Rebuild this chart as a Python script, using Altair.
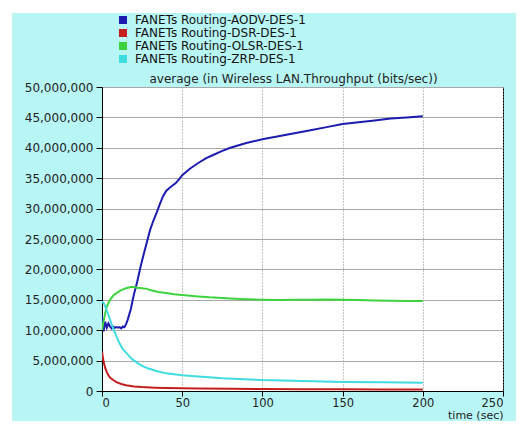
import altair as alt
import pandas as pd

series = [
    "FANETs Routing-AODV-DES-1",
    "FANETs Routing-DSR-DES-1",
    "FANETs Routing-OLSR-DES-1",
    "FANETs Routing-ZRP-DES-1",
]
colors = ["#1c1cb0", "#c41e1e", "#3ed23e", "#3fdce0"]
plot_title = "average (in Wireless LAN.Throughput (bits/sec))"

aodv_t = [0, 1, 2, 3, 4, 5, 6, 7, 8, 9, 10, 11, 12, 13, 14, 15, 16, 17, 18, 19, 20, 21, 22, 24, 26, 28, 30,
          32, 34, 36, 38, 40, 42, 44, 46, 48, 50, 55, 60, 65, 70, 75, 80, 90, 100, 110, 120, 130, 140, 150,
          160, 170, 180, 190, 200]
aodv_v = [12.5, 9.8, 11.4, 10.4, 11.1, 10.6, 10.3, 10.6, 10.4, 10.5, 10.4, 10.5, 10.3, 10.6, 10.5, 11.0,
          11.7, 12.6, 13.5, 14.8, 16.0, 17.0, 18.0, 20.4, 22.5, 24.5, 26.5, 28.0, 29.3, 30.7, 32.0, 32.9,
          33.4, 33.8, 34.2, 34.8, 35.5, 36.6, 37.5, 38.3, 38.9, 39.5, 40.0, 40.8, 41.4, 41.9, 42.4, 42.9,
          43.4, 43.9, 44.2, 44.5, 44.8, 45.0, 45.2]

dsr_t = [0, 0.5, 1, 2, 3, 4, 5, 7, 9, 12, 15, 20, 25, 33, 40, 50, 60, 80, 100, 125, 150, 175, 200]
dsr_v = [6.5, 5.6, 4.8, 3.8, 3.1, 2.6, 2.2, 1.8, 1.45, 1.15, 0.95, 0.75, 0.65, 0.55, 0.5, 0.45, 0.41,
         0.36, 0.32, 0.29, 0.27, 0.26, 0.25]

olsr_t = [0, 1, 2, 3, 5, 7, 9, 12, 15, 18, 20, 22, 25, 28, 30, 35, 40, 45, 50, 60, 67, 80, 90, 100,
          110, 120, 130, 140, 150, 160, 170, 180, 190, 200]
olsr_v = [10.0, 11.5, 12.8, 13.9, 15.0, 15.7, 16.1, 16.6, 16.9, 17.1, 17.1, 17.0, 16.9, 16.8, 16.6, 16.3,
          16.1, 15.9, 15.8, 15.55, 15.4, 15.2, 15.1, 15.0, 14.95, 15.0, 15.0, 15.05, 15.0, 14.95, 14.9,
          14.85, 14.8, 14.8]

zrp_t = [0, 1, 2, 3, 4.4, 6, 7, 9, 11, 13, 16.4, 19, 22.6, 26, 29, 35, 40, 50, 60, 75, 100, 125, 150,
         175, 200]
zrp_v = [14.7, 14.5, 13.9, 13.2, 12.2, 11.0, 10.3, 9.0, 7.8, 6.9, 5.9, 5.2, 4.5, 4.0, 3.7, 3.2, 2.9,
         2.6, 2.4, 2.1, 1.8, 1.65, 1.5, 1.42, 1.37]

y_ticks = [i * 5_000_000 for i in range(11)]
x_ticks = [0, 50, 100, 150, 200, 250]

rows = []
for name, ts, vs in zip(series, [aodv_t, dsr_t, olsr_t, zrp_t], [aodv_v, dsr_v, olsr_v, zrp_v]):
    for t, v in zip(ts, vs):
        rows.append({"series": name, "time": t, "value": v * 1_000_000})
df = pd.DataFrame(rows)

FONT = "DejaVu Sans"
W, H = 401, 304

lines = alt.Chart(df).mark_line(strokeWidth=2, clip=True).encode(
    x=alt.X("time:Q", scale=alt.Scale(domain=[0, 250], nice=False),
            axis=alt.Axis(values=x_ticks, title="time (sec)", grid=True, gridDash=[1, 2],
                          gridColor="#8a8a8a", tickSize=5, tickColor="#000", domainColor="#000",
                          labelFont=FONT, labelFontSize=11.5, labelColor="#222", labelPadding=1,
                          titleFont=FONT, titleFontSize=11, titleFontWeight="normal", titleColor="#222",
                          titleAnchor="end", titleAlign="right", titleX=W, titleY=24,
                          titleBaseline="middle")),
    y=alt.Y("value:Q", scale=alt.Scale(domain=[0, 50_000_000], nice=False),
            axis=alt.Axis(values=y_ticks, format=",d", title=None, grid=True, gridColor="#a8a8a8",
                          tickSize=6, tickColor="#000", domainColor="#000", labelFont=FONT,
                          labelFontSize=12, labelColor="#222", labelPadding=3)),
    color=alt.Color("series:N", scale=alt.Scale(domain=series, range=colors),
                    legend=alt.Legend(orient="none", legendX=15, legendY=-73, title=None,
                                      symbolType="square", symbolSize=16, symbolStrokeWidth=4,
                                      labelFont=FONT, labelFontSize=12, labelColor="#111",
                                      labelLimit=400, rowPadding=1, padding=0, labelOffset=6,
                                      clipHeight=12, columns=1)),
)

strip = pd.DataFrame({"k": [0]})
top_strip = alt.Chart(strip).mark_rect(color="white").encode(
    x=alt.value(-94), x2=alt.value(W + 13), y=alt.value(-79), y2=alt.value(-74))
left_strip = alt.Chart(strip).mark_rect(color="white").encode(
    x=alt.value(-94), x2=alt.value(-90), y=alt.value(-79), y2=alt.value(H + 30))
title_text = alt.Chart(strip).mark_text(font=FONT, fontSize=12, color="#222", baseline="alphabetic",
                                        align="center").encode(
    x=alt.value(W / 2 - 9), y=alt.value(-4), text=alt.value(plot_title))

chart = alt.layer(top_strip, left_strip, title_text, lines).properties(
    width=W, height=H,
    autosize=alt.AutoSizeParams(type="none"),
    padding={"left": 94, "top": 79, "right": 13, "bottom": 30},
    background="#b8f6f6",
).configure_view(fill="white", stroke="#000", strokeWidth=1)

chart.save("out.html", embed_options={"renderer": "svg", "actions": False})
